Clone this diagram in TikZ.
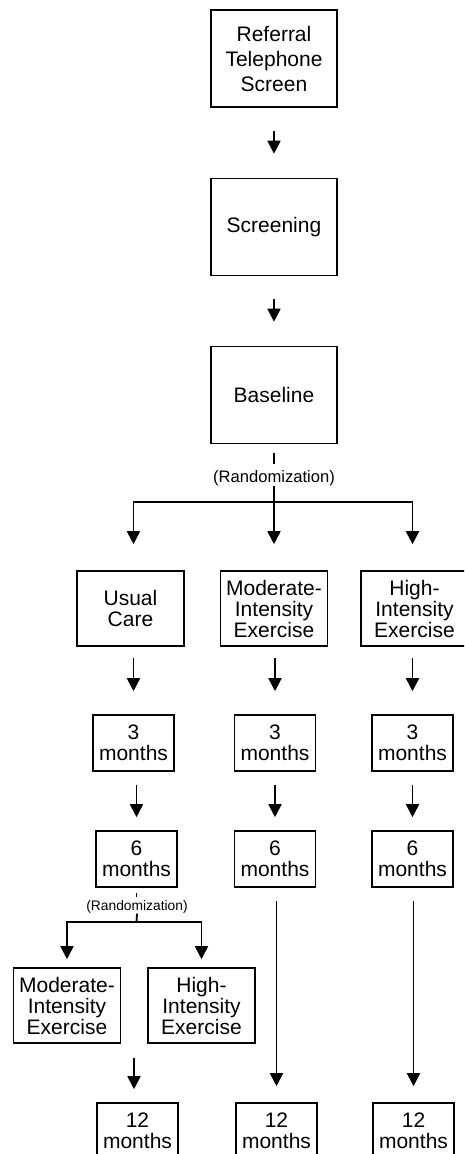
\documentclass[tikz,border=0pt]{standalone}
\usepackage{fontspec}
\setmainfont{Liberation Sans}
\usetikzlibrary{arrows.meta}

\begin{document}
\begin{tikzpicture}[
  x=1pt, y=1pt,
  box/.style={draw, line width=1.6pt, align=center, inner sep=0pt, font=\fontsize{21}{21}\selectfont},
  big/.style={box, minimum width=126pt, minimum height=97pt},
  grp/.style={box, minimum width=107pt, minimum height=75pt},
  mon/.style={box, minimum width=81pt, minimum height=56pt},
  rnd/.style={inner sep=0pt, font=\fontsize{16.6}{18}\selectfont},
  rndsmall/.style={inner sep=0pt, font=\fontsize{13.8}{15}\selectfont},
  lin/.style={line width=1.8pt},
  arr/.style={-{Triangle[length=13pt, width=13pt]}, line width=1.8pt}
]
\useasboundingbox (0,0) rectangle (464,-1154);
\clip (0,0) rectangle (464,-1154);

\node[big] (ref) at (274,-58.5) {Referral\\[4pt]Telephone\\[4pt]Screen};
\node[big] (screen) at (274,-227) {Screening};
\node[big] (base) at (274,-395) {Baseline};
\draw[arr, shorten <=23pt, shorten >=24pt] (ref) -- (screen);
\draw[arr, shorten <=23pt, shorten >=24pt] (screen) -- (base);

\node[rnd] (rand) at (274,-478) {(Randomization)};
\coordinate (split) at (274,-502);
\draw[lin] ([yshift=-9pt]base.south) -- ([yshift=-20pt]base.south);

\node[grp] (uc) at (130.5,-608.5) {Usual\\Care};
\node[grp] (mie) at (274,-608.5) {Moderate-\\Intensity\\Exercise};
\node[grp] (hie) at (414.5,-608.5) {High-\\Intensity\\Exercise};

\node[mon] (uc3) at (133.5,-743) {3\\months};
\node[mon] (mie3) at (275,-743) {3\\months};
\node[mon] (hie3) at (412.5,-743) {3\\months};

\node[mon] (uc6) at (136.5,-859) {6\\months};
\node[mon] (mie6) at (275,-859) {6\\months};
\node[mon] (hie6) at (412.5,-859) {6\\months};

\draw[arr, shorten >=26pt] (rand.south) -- (mie.north);
\draw[arr, shorten >=26pt] (split) -| (uc3 |- uc.north);
\draw[arr, shorten >=26pt] (split) -| (hie3 |- hie.north);

\draw[arr, shorten <=11pt, shorten >=23pt] (uc3 |- uc.south) -- (uc3.north);
\draw[arr, shorten <=11pt, shorten >=23pt] (mie3 |- mie.south) -- (mie3.north);
\draw[arr, shorten <=11pt, shorten >=23pt] (hie3 |- hie.south) -- (hie3.north);

\draw[arr, shorten <=13pt, shorten >=13pt] (uc6 |- uc3.south) -- (uc6.north);
\draw[arr, shorten <=13pt, shorten >=13pt] (mie6 |- mie3.south) -- (mie6.north);
\draw[arr, shorten <=13pt, shorten >=13pt] (hie6 |- hie3.south) -- (hie6.north);

\node[rndsmall] (rand2) at (137,-907) {(Randomization)};
\coordinate (split2) at (136.5,-922);
\draw[lin] ([yshift=-5pt]uc6.south) -- ([yshift=-9pt]uc6.south);
\draw[lin] (rand2.south) -- (split2);

\node[grp] (ucm) at (67,-1005.5) {Moderate-\\Intensity\\Exercise};
\node[grp] (uch) at (201.5,-1005.5) {High-\\Intensity\\Exercise};
\draw[arr, shorten >=8pt] (split2) -| (ucm.north);
\draw[arr, shorten >=8pt] (split2) -| (uch.north);

\node[mon] (uc12) at (137.5,-1131) {12\\months};
\node[mon] (mie12) at (276.5,-1131) {12\\months};
\node[mon] (hie12) at (413.5,-1131) {12\\months};

\draw[arr, shorten <=14pt, shorten >=13pt] ([xshift=-3.5pt]uc12 |- ucm.south) -- ([xshift=-3.5pt]uc12.north);
\draw[arr, shorten <=13pt, shorten >=16pt] (mie12 |- mie6.south) -- (mie12.north);
\draw[arr, shorten <=13pt, shorten >=16pt] (hie12 |- hie6.south) -- (hie12.north);
\end{tikzpicture}
\end{document}
